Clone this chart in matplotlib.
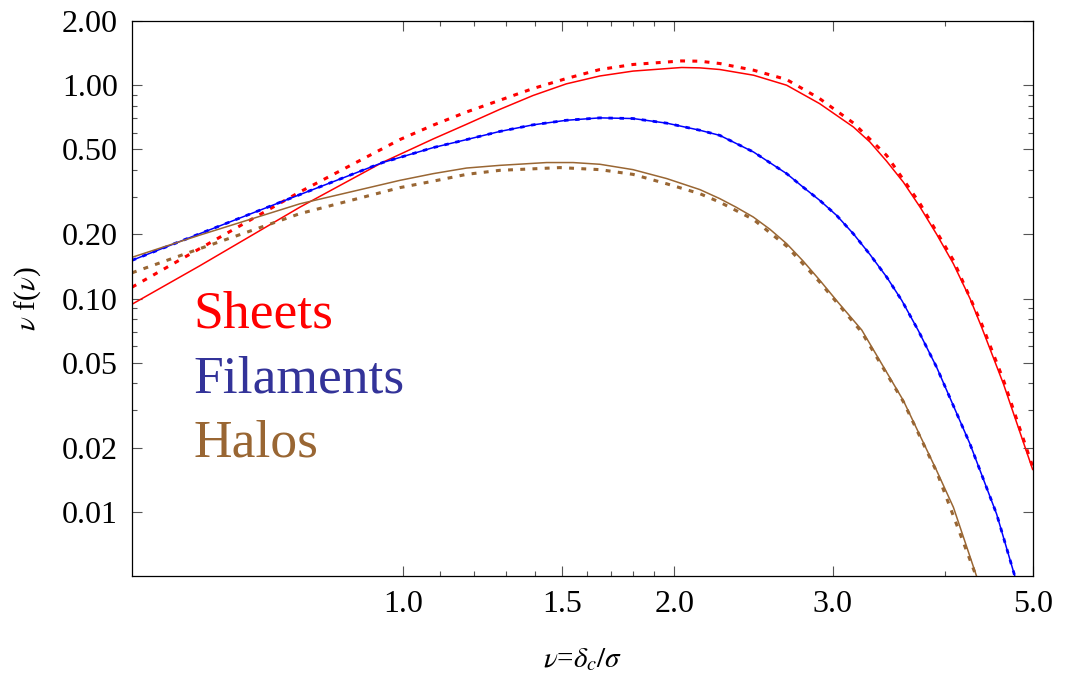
import matplotlib
matplotlib.use('Agg')
import matplotlib.pyplot as plt
from matplotlib.ticker import FixedLocator, FormatStrFormatter, NullFormatter

plt.rcParams['font.family'] = ['Liberation Serif', 'DejaVu Serif']
plt.rcParams['mathtext.fontset'] = 'stix'

# values (nu, nu f(nu))
nu_sheets = [0.5, 0.594, 0.768, 0.949, 1.08, 1.176, 1.28, 1.394, 1.518, 1.654, 1.80, 2.038,
             2.136, 2.247, 2.45, 2.666, 2.9, 3.162, 3.298, 3.443, 3.593, 3.75, 3.912, 4.083,
             4.26, 4.389, 4.64, 5.0]
f_sheets = [0.094, 0.142, 0.268, 0.435, 0.56, 0.656, 0.77, 0.895, 1.015, 1.105, 1.165, 1.211,
            1.206, 1.185, 1.114, 1.0, 0.82, 0.637, 0.542, 0.44, 0.351, 0.268, 0.2, 0.1455,
            0.1, 0.0733, 0.0398, 0.0158]

nu_sheets_d = [0.5, 0.594, 0.768, 0.9916, 1.08, 1.176, 1.28, 1.394, 1.518, 1.654, 1.80, 2.038,
               2.136, 2.247, 2.45, 2.666, 2.9, 3.162, 3.443, 3.75, 4.083, 4.389, 4.64, 5.0]
f_sheets_d = [0.113, 0.171, 0.316, 0.556, 0.65, 0.749, 0.85, 0.965, 1.075, 1.185, 1.251, 1.30,
              1.296, 1.264, 1.176, 1.063, 0.866, 0.665, 0.468, 0.278, 0.151, 0.076, 0.0415,
              0.0163]

nu_fil = [0.5, 0.594, 0.768, 0.949, 1.08, 1.176, 1.28, 1.394, 1.518, 1.654, 1.80, 1.962,
          2.136, 2.247, 2.45, 2.666, 2.78, 2.903, 3.03, 3.162, 3.298, 3.443, 3.578, 3.733,
          3.912, 4.26, 4.56, 4.78]
f_fil = [0.151, 0.201, 0.307, 0.434, 0.51, 0.556, 0.607, 0.652, 0.685, 0.703, 0.698, 0.664,
         0.615, 0.582, 0.486, 0.385, 0.333, 0.288, 0.245, 0.201, 0.161, 0.126, 0.098, 0.0707,
         0.0476, 0.0208, 0.00976, 0.00495]

nu_halo = [0.5, 0.594, 0.768, 0.9916, 1.08, 1.176, 1.28, 1.443, 1.544, 1.654, 1.80, 1.962,
           2.136, 2.247, 2.343, 2.448, 2.555, 2.666, 2.78, 2.903, 3.04, 3.23, 3.593,
           3.912, 4.083, 4.335]
f_halo = [0.156, 0.198, 0.278, 0.358, 0.385, 0.409, 0.421, 0.434, 0.434, 0.426, 0.402, 0.365,
          0.324, 0.294, 0.268, 0.241, 0.211, 0.1807, 0.15, 0.1215, 0.096, 0.0712,
          0.0332, 0.0156, 0.0105, 0.00495]

nu_halo_d = [0.5, 0.594, 0.768, 0.9916, 1.08, 1.176, 1.28, 1.493, 1.654, 1.80, 1.962, 2.136,
             2.247, 2.448, 2.666, 2.903, 3.23, 3.593, 3.912, 4.335]
f_halo_d = [0.132, 0.171, 0.25, 0.331, 0.355, 0.382, 0.399, 0.411, 0.402, 0.382, 0.345, 0.310,
            0.283, 0.235, 0.176, 0.119, 0.0695, 0.0328, 0.0154, 0.0049]

x_major = [1.0, 1.5, 2.0, 3.0, 5.0]
x_minor = [1.1, 1.2, 1.3, 1.4, 1.6, 1.7, 1.8, 1.9, 4.0]
y_major = [2.0, 1.0, 0.5, 0.2, 0.1, 0.05, 0.02, 0.01]
y_minor = [0.9, 0.8, 0.7, 0.6, 0.4, 0.3, 0.09, 0.08, 0.07, 0.06, 0.04, 0.03]

red = '#ff0000'
blue = '#0000ff'
brown = '#996633'
dots = (0, (1.6, 2.4))

fig = plt.figure(figsize=(10.72, 6.78), dpi=100)
ax = fig.add_axes([0.1231, 0.1504, 0.8402, 0.8186])

ax.plot(nu_sheets, f_sheets, color=red, lw=1.1)
ax.plot(nu_sheets_d, f_sheets_d, color=red, lw=2.2, ls=dots)
ax.plot(nu_fil, f_fil, color=blue, lw=1.1)
ax.plot(nu_fil, f_fil, color=blue, lw=2.0, ls=dots)
ax.plot(nu_halo, f_halo, color=brown, lw=1.1)
ax.plot(nu_halo_d, f_halo_d, color=brown, lw=2.2, ls=dots)

ax.set_xscale('log')
ax.set_yscale('log')
ax.set_xlim(0.5, 5.0)
ax.set_ylim(0.005, 2.0)

ax.xaxis.set_major_locator(FixedLocator(x_major))
ax.xaxis.set_minor_locator(FixedLocator(x_minor))
ax.xaxis.set_major_formatter(FormatStrFormatter('%.1f'))
ax.xaxis.set_minor_formatter(NullFormatter())
ax.yaxis.set_major_locator(FixedLocator(y_major))
ax.yaxis.set_minor_locator(FixedLocator(y_minor))
ax.yaxis.set_major_formatter(FormatStrFormatter('%.2f'))
ax.yaxis.set_minor_formatter(NullFormatter())

ax.tick_params(which='both', direction='in', top=True, right=True, color='#555555',
               width=0.8, labelsize=23)
ax.tick_params(which='major', length=7.2, pad=10)
ax.tick_params(which='minor', length=3.6)
for s in ax.spines.values():
    s.set_linewidth(0.9)

ax.set_xlabel(r'$\nu$=$\delta_c/\sigma$', fontsize=21, labelpad=20)
ax.set_ylabel(r'$\nu$ f($\nu$)', fontsize=21, labelpad=14)

ax.text(0.068, 0.447, 'Sheets', color=red, fontsize=38.5, va='baseline', transform=ax.transAxes)
ax.text(0.068, 0.3315, 'Filaments', color='#333399', fontsize=38.5, va='baseline', transform=ax.transAxes)
ax.text(0.068, 0.216, 'Halos', color=brown, fontsize=38.5, va='baseline', transform=ax.transAxes)

fig.savefig('out.png', dpi=100)
